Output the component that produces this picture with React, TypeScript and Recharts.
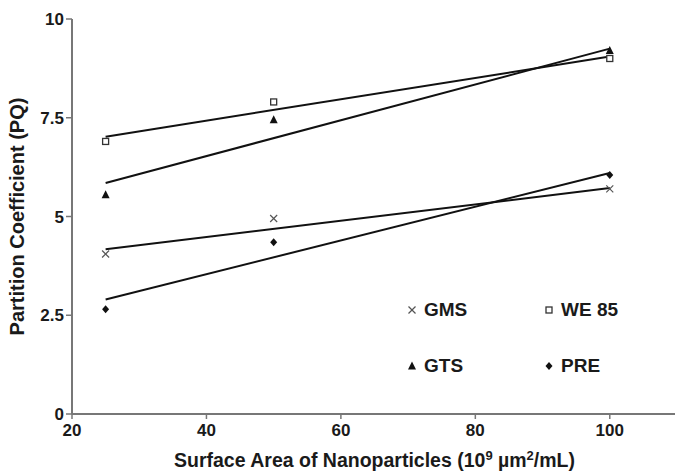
import React from 'react';
import { ComposedChart, Scatter, Line, XAxis, YAxis, Legend } from 'recharts';

// Measured data points (x = surface area, y = partition coefficient)
const xValues = [25, 50, 100];
const gmsValues = [4.05, 4.95, 5.7];
const we85Values = [6.9, 7.9, 9.0];
const gtsValues = [5.55, 7.45, 9.2];
const preValues = [2.65, 4.35, 6.05];

// Trend line end points
const trendX = [25, 100];
const gmsTrend = [4.17, 5.72];
const we85Trend = [7.02, 9.05];
const gtsTrend = [5.85, 9.25];
const preTrend = [2.9, 6.1];

const xTicks = [20, 40, 60, 80, 100];
const yTicks = [0, 2.5, 5, 7.5, 10];

const toPts = (ys: number[]) => xValues.map((x, i) => ({ x, y: ys[i] }));
const toTrend = (ys: number[]) => trendX.map((x, i) => ({ x, y: ys[i] }));

const FONT = 'Arial, "Liberation Sans", sans-serif';
const TEXT = '#1a1a1a';

const CrossShape = (p: any) => (
  <g>
    <line x1={p.cx - 3.5} y1={p.cy - 3.5} x2={p.cx + 3.5} y2={p.cy + 3.5} stroke="#555" strokeWidth={1.2} />
    <line x1={p.cx - 3.5} y1={p.cy + 3.5} x2={p.cx + 3.5} y2={p.cy - 3.5} stroke="#555" strokeWidth={1.2} />
  </g>
);
const SquareShape = (p: any) => (
  <rect x={p.cx - 3} y={p.cy - 3} width={6} height={6} fill="#fff" stroke="#333" strokeWidth={1.3} />
);
const TriangleShape = (p: any) => (
  <polygon points={`${p.cx},${p.cy - 4.5} ${p.cx + 4},${p.cy + 3.5} ${p.cx - 4},${p.cy + 3.5}`} fill="#111" />
);
const DiamondShape = (p: any) => (
  <polygon points={`${p.cx},${p.cy - 4} ${p.cx + 3.5},${p.cy} ${p.cx},${p.cy + 4} ${p.cx - 3.5},${p.cy}`} fill="#111" />
);

const legendItems = [
  { name: 'GMS', icon: 'cross', col: 0, row: 0 },
  { name: 'WE 85', icon: 'square', col: 1, row: 0 },
  { name: 'GTS', icon: 'triangle', col: 0, row: 1 },
  { name: 'PRE', icon: 'diamond', col: 1, row: 1 },
];

const LegendIcon = ({ icon }: { icon: string }) => {
  const c = 6;
  return (
    <svg width={12} height={12} style={{ display: 'block' }}>
      {icon === 'cross' && CrossShape({ cx: c, cy: c })}
      {icon === 'square' && SquareShape({ cx: c, cy: c })}
      {icon === 'triangle' && TriangleShape({ cx: c, cy: c })}
      {icon === 'diamond' && DiamondShape({ cx: c, cy: c })}
    </svg>
  );
};

const LegendContent = () => (
  <div style={{ position: 'relative', width: 240, height: 90 }}>
    {legendItems.map((it) => (
      <div
        key={it.name}
        style={{
          position: 'absolute',
          left: it.col * 137,
          top: it.row * 56,
          display: 'flex',
          alignItems: 'center',
          fontFamily: FONT,
          fontWeight: 'bold',
          fontSize: 19,
          color: TEXT,
          lineHeight: '22px',
          whiteSpace: 'nowrap',
        }}
      >
        <LegendIcon icon={it.icon} />
        <span style={{ marginLeft: 6 }}>{it.name}</span>
      </div>
    ))}
  </div>
);

const XTitle = (props: any) => {
  const vb = props.viewBox || {};
  const cx = vb.x + vb.width / 2;
  return (
    <text x={cx} y={467} textAnchor="middle" fontFamily={FONT} fontWeight="bold" fontSize={19.5} fill={TEXT}>
      Surface Area of Nanoparticles (10
      <tspan fontSize={13} dy={-7}>9</tspan>
      <tspan dy={7}> µm</tspan>
      <tspan fontSize={13} dy={-7}>2</tspan>
      <tspan dy={7}>/mL)</tspan>
    </text>
  );
};

const YTitle = (props: any) => {
  const vb = props.viewBox || {};
  const cy = vb.y + vb.height / 2;
  return (
    <text
      x={17}
      y={cy}
      transform={`rotate(-90, 17, ${cy})`}
      textAnchor="middle"
      dominantBaseline="central"
      fontFamily={FONT}
      fontWeight="bold"
      fontSize={20}
      fill={TEXT}
    >
      Partition Coefficient (PQ)
    </text>
  );
};

const tickStyle = { fontFamily: FONT, fontWeight: 'bold' as const, fontSize: 17, fill: TEXT };

export default function App() {
  return (
    <div style={{ position: 'absolute', left: 0, top: 0, width: 675, height: 471, overflow: 'hidden', background: '#fff' }}>
      <ComposedChart width={680} height={471} margin={{ top: 19, right: 3, bottom: 0, left: 0 }}>
        <XAxis
          type="number"
          dataKey="x"
          domain={[20, 110]}
          ticks={xTicks}
          tick={tickStyle}
          tickLine={{ stroke: '#777', strokeWidth: 1.5 }}
          tickSize={5}
          tickMargin={5}
          axisLine={{ stroke: '#777', strokeWidth: 2 }}
          height={57}
          label={<XTitle />}
          allowDataOverflow
        />
        <YAxis
          type="number"
          dataKey="y"
          domain={[0, 10]}
          ticks={yTicks}
          tick={tickStyle}
          tickLine={{ stroke: '#777', strokeWidth: 1.5 }}
          tickSize={6}
          tickMargin={2}
          axisLine={{ stroke: '#777', strokeWidth: 2 }}
          width={72}
          label={<YTitle />}
        />
        <Line data={toTrend(we85Trend)} dataKey="y" stroke="#111" strokeWidth={2} dot={false} isAnimationActive={false} legendType="none" />
        <Line data={toTrend(gtsTrend)} dataKey="y" stroke="#111" strokeWidth={2} dot={false} isAnimationActive={false} legendType="none" />
        <Line data={toTrend(gmsTrend)} dataKey="y" stroke="#111" strokeWidth={2} dot={false} isAnimationActive={false} legendType="none" />
        <Line data={toTrend(preTrend)} dataKey="y" stroke="#111" strokeWidth={2} dot={false} isAnimationActive={false} legendType="none" />
        <Scatter name="GMS" data={toPts(gmsValues)} dataKey="y" shape={CrossShape} isAnimationActive={false} />
        <Scatter name="WE 85" data={toPts(we85Values)} dataKey="y" shape={SquareShape} isAnimationActive={false} />
        <Scatter name="GTS" data={toPts(gtsValues)} dataKey="y" shape={TriangleShape} isAnimationActive={false} />
        <Scatter name="PRE" data={toPts(preValues)} dataKey="y" shape={DiamondShape} isAnimationActive={false} />
        <Legend
          layout="horizontal"
          verticalAlign="middle"
          align="center"
          content={<LegendContent />}
          wrapperStyle={{ left: 406, top: 299, width: 260, height: 90 }}
        />
      </ComposedChart>
    </div>
  );
}
